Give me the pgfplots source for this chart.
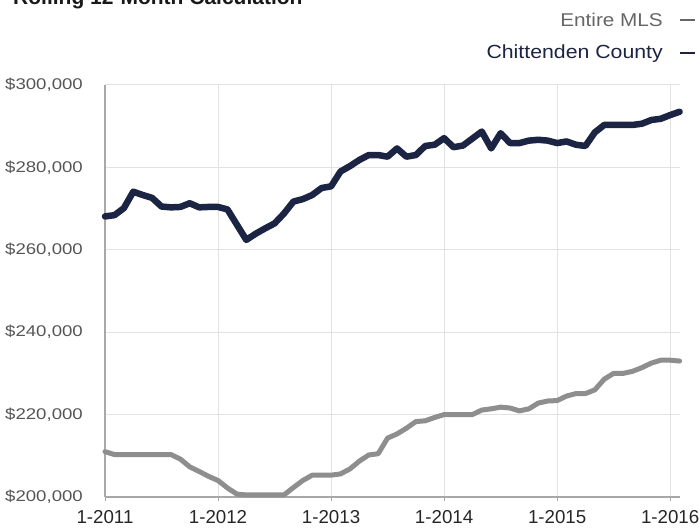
\documentclass[border=0pt]{standalone}
\usepackage{fontspec}
\setmainfont{Liberation Sans}
\newfontfamily\ylabfont[FakeStretch=1.2]{Liberation Sans}
\newfontfamily\legfont[FakeStretch=1.12]{Liberation Sans}
\usepackage{pgfplots}
\pgfplotsset{compat=1.18}
\definecolor{navy}{HTML}{1C2443}
\definecolor{mlsgray}{HTML}{8E8E8E}
\definecolor{gridgray}{HTML}{E2E2E2}
\definecolor{axgray}{HTML}{A8A8A8}
\definecolor{labgray}{HTML}{555555}
\begin{document}
\begin{tikzpicture}
\useasboundingbox (0pt,0pt) rectangle (699pt,529pt);
\clip (0pt,0pt) rectangle (699pt,529pt);
\begin{axis}[
  at={(105pt,32pt)}, anchor=south west,
  scale only axis, width=574.6pt, height=412pt,
  xmin=0, xmax=61, ymin=200000, ymax=300000,
  clip=false,
  axis x line*=bottom, axis y line*=left,
  axis line style={-, axgray, line width=1.5pt},
  xtick={0,12,24,36,48,60},
  xticklabels={1-2011,1-2012,1-2013,1-2014,1-2015,1-2016},
  ytick={200000,220000,240000,260000,280000,300000},
  yticklabels={{\$200,000},{\$220,000},{\$240,000},{\$260,000},{\$280,000},{\$300,000}},
  scaled y ticks=false,
  xmajorgrids, ymajorgrids,
  major grid style={gridgray, line width=1pt},
  tick align=outside,
  xtick style={axgray, line width=1pt},
  major tick length=4pt,
  ytick style={draw=none},
  xticklabel style={font=\fontsize{18.7}{20}\selectfont, text=black!85, inner sep=0pt, yshift=-9pt},
  yticklabel style={font=\fontsize{15.5}{17}\ylabfont, text=labgray, inner sep=0pt, xshift=-18pt},
]
\addplot[mlsgray, line width=5pt, line join=round, line cap=round] coordinates {
(0,211000)(1,210300)(2,210300)(3,210300)(4,210300)(5,210300)(6,210300)(7,210300)
(8,209200)(9,207300)(10,206200)(11,205000)(12,204000)(13,202200)(14,200700)
(15,200500)(16,200500)(17,200500)(18,200500)(19,200500)(20,202300)(21,204000)
(22,205300)(23,205300)(24,205300)(25,205600)(26,206800)(27,208700)(28,210200)
(29,210500)(30,214300)(31,215300)(32,216700)(33,218300)(34,218500)(35,219300)
(36,220000)(37,220000)(38,220000)(39,220000)(40,221100)(41,221400)(42,221800)
(43,221600)(44,220900)(45,221400)(46,222800)(47,223300)(48,223400)(49,224500)
(50,225100)(51,225100)(52,226000)(53,228600)(54,230000)(55,230000)(56,230500)
(57,231400)(58,232500)(59,233200)(60,233200)(61,233000)
};
\addplot[navy, line width=6.5pt, line join=round, line cap=round] coordinates {
(0,268100)(1,268400)(2,270100)(3,274100)(4,273300)(5,272600)(6,270500)(7,270300)
(8,270400)(9,271300)(10,270300)(11,270400)(12,270400)(13,269800)(14,266100)
(15,262400)(16,263900)(17,265200)(18,266400)(19,268800)(20,271700)(21,272300)
(22,273300)(23,275000)(24,275400)(25,279000)(26,280300)(27,281800)(28,283000)
(29,283000)(30,282600)(31,284600)(32,282600)(33,283000)(34,285200)(35,285500)
(36,287100)(37,284900)(38,285300)(39,287000)(40,288700)(41,284600)(42,288300)
(43,285900)(44,285900)(45,286500)(46,286700)(47,286500)(48,285900)(49,286300)
(50,285500)(51,285200)(52,288500)(53,290300)(54,290300)(55,290300)(56,290300)
(57,290600)(58,291500)(59,291800)(60,292700)(61,293500)
};
\end{axis}
\node[anchor=base west, inner sep=0pt, font=\fontsize{21}{24}\selectfont\bfseries, text=black!90] at (13pt,524pt) {Rolling 12-Month Calculation};
\node[anchor=base east, inner sep=0pt, font=\fontsize{18.5}{20}\legfont, text=black!60] at (663pt,502.3pt) {Entire MLS};
\draw[black!60, line width=1.5pt] (680pt,509pt) -- (695pt,509pt);
\node[anchor=base east, inner sep=0pt, font=\fontsize{19}{21}\legfont, text=navy] at (663pt,470.7pt) {Chittenden County};
\draw[navy, line width=2pt] (680pt,475.7pt) -- (695pt,475.7pt);
\end{tikzpicture}
\end{document}
